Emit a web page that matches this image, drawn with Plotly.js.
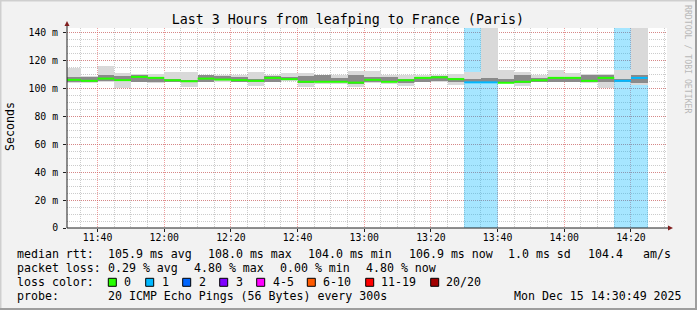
<!DOCTYPE html>
<html><head><meta charset="utf-8">
<script src="https://cdn.plot.ly/plotly-3.0.1.min.js"></script>
<style>html,body{margin:0;padding:0;background:#f2f2f2;}#chart{width:697px;height:310px;}</style>
</head><body><div id="chart"></div>
<script>
// ---- data (5-minute SmokePing intervals, values in ms) ----
const intervalStarts = ['11:30','11:35','11:40','11:45','11:50','11:55','12:00','12:05','12:10','12:15',
  '12:20','12:25','12:30','12:35','12:40','12:45','12:50','12:55','13:00','13:05',
  '13:10','13:15','13:20','13:25','13:30','13:35','13:40','13:45','13:50','13:55',
  '14:00','14:05','14:10','14:15','14:20'];
const medianRtt = [106.2,105.5,107.1,106.0,108.3,107.6,105.9,105.2,107.1,106.4,
  106.0,105.5,107.6,106.7,104.8,104.8,104.8,104.2,106.2,104.8,
  105.9,107.6,108.0,106.7,104.4,104.4,104.1,104.8,105.9,107.6,
  107.6,105.5,107.6,105.5,107.6];
const lossCount = [0,0,0,0,0,0,0,0,0,0, 0,0,0,0,0,0,0,0,0,0, 0,0,0,0,1,1,0,0,0,0, 0,0,0,1,1];
const smokeMin = [104.0,103.8,104.3,100.5,104.3,103.6,104.3,101.2,104.3,104.3,
  104.3,101.9,104.3,105.5,101.2,102.9,102.9,101.2,103.6,102.9,
  101.9,104.3,104.8,102.4,104.4,104.4,104.0,101.9,104.3,104.3,
  104.3,103.6,100.0,104.8,102.4];
const smokeMax = [115.0,108.6,116.2,111.0,110.7,110.7,111.9,111.9,109.9,110.0,
  109.5,111.9,109.5,111.2,111.2,110.0,109.5,112.4,112.6,109.5,
  109.5,109.5,110.0,110.7,112.1,150.0,113.1,111.9,110.0,113.1,
  111.4,110.7,110.7,113.1,150.0];
const coreMin = [104.8,104.5,105.5,105.5,105.0,104.8,104.8,104.3,104.8,105.8,
  104.8,104.3,104.8,106.0,103.6,104.3,104.3,102.9,104.8,104.3,
  103.6,104.8,105.2,104.5,104.4,104.8,104.8,103.6,104.8,104.8,
  105.0,105.0,104.8,104.8,103.6];
const coreMax = [108.3,108.0,110.0,109.3,109.5,108.0,106.7,106.0,109.5,108.8,
  108.0,106.7,108.8,108.5,108.8,109.5,107.6,109.5,108.3,108.3,
  107.1,108.5,108.8,107.6,106.5,107.6,107.1,109.5,107.6,108.3,
  108.5,109.5,109.5,107.1,109.5];
const yTickVals = [0,20,40,60,80,100,120,140];
const yTickText = ['0','20 m','40 m','60 m','80 m','100 m','120 m','140 m'];
const lossLabels = ['0','1','2','3','4-5','6-10','11-19','20/20'];
const lossColors = ['#26ff00','#00b8ff','#0066ff','#7f00ff','#ff00ff','#ff5a00','#ff0000','#a10000'];
const lossBgColors = ['rgba(38,255,0,0.35)','rgba(0,184,255,0.35)','rgba(0,102,255,0.35)','rgba(127,0,255,0.35)',
  'rgba(255,0,255,0.35)','rgba(255,90,0,0.35)','rgba(255,0,0,0.35)','rgba(161,0,0,0.35)'];
const statRows = [
  [['median rtt:',16],['105.9 ms avg',107.3],['108.0 ms max',207.3],['104.0 ms min',306.7],['106.9 ms now',408.3],['1.0 ms sd',506.7],['104.4',586.7],['am/s',641.7]],
  [['packet loss:',16],['0.29 % avg',107.3],['4.80 % max',193.3],['0.00 % min',278.7],['4.80 % now',365]],
  [['loss color:',16]],
  [['probe:',16],['20 ICMP Echo Pings (56 Bytes) every 300s',107.3],['Mon Dec 15 14:30:49 2025',513.3]]
];
const swatchX = [108.3,145.7,182.7,219.7,256.7,307.3,365.7,430.7];
const swatchLabelX = [123.3,161,198,235,272,322.3,380,445.3];

// ---- helpers ----
const STEP = 300000;
function toMs(t, s){ const p=t.split(':'); return Date.UTC(2025,11,15,+p[0],+p[1],s||0); }
function lossIdx(n){ if(n<=3) return n; if(n<=5) return 4; if(n<=10) return 5; if(n<=19) return 6; return 7; }
const X = px => (px-67)/600;
const Y = py => (228-py)/200;
const xs = intervalStarts.map(t=>toMs(t));
const Y_TOP = 143.36;

const traces = [];
// loss background
const bgIdx = lossCount.map((n,i)=>n>0?i:-1).filter(i=>i>=0);
traces.push({type:'bar', x:bgIdx.map(i=>xs[i]), base:bgIdx.map(()=>0), y:bgIdx.map(()=>Y_TOP+20),
  width:STEP, offset:0, marker:{color:bgIdx.map(i=>lossBgColors[lossIdx(lossCount[i])]), line:{width:0}},
  hoverinfo:'skip', showlegend:false});
// smoke outer
traces.push({type:'bar', x:xs, base:smokeMin, y:smokeMax.map((v,i)=>v-smokeMin[i]), width:STEP, offset:0,
  marker:{color:'#d9d9d9', line:{width:0}}, hoverinfo:'skip', showlegend:false});
// smoke core
traces.push({type:'bar', x:xs, base:coreMin, y:coreMax.map((v,i)=>v-coreMin[i]), width:STEP, offset:0,
  marker:{color:'#8a8a8a', line:{width:0}}, hoverinfo:'skip', showlegend:false});
// median lines per loss colour
lossColors.forEach((c,k)=>{
  const lx=[], ly=[];
  medianRtt.forEach((m,i)=>{ if(lossIdx(lossCount[i])===k){ lx.push(xs[i], xs[i]+STEP, null); ly.push(m,m,null);} });
  if(lx.length) traces.push({type:'scatter', mode:'lines', x:lx, y:ly, line:{color:c,width:2},
    hoverinfo:'skip', showlegend:false, connectgaps:false});
});

const mono = 'DejaVu Sans Mono, monospace';
const annotations = [];
statRows.forEach((row,r)=>{
  const py = 254.3 + r*14;
  row.forEach(([t,px])=>annotations.push({text:t.replace(/ /g,'\u00a0'), xref:'paper', yref:'paper', x:X(px-1), y:Y(py),
    xanchor:'left', yanchor:'middle', showarrow:false, font:{family:mono,size:11.6,color:'#000'}}));
});
lossLabels.forEach((t,k)=>annotations.push({text:t, xref:'paper', yref:'paper', x:X(swatchLabelX[k]-1), y:Y(282.3),
  xanchor:'left', yanchor:'middle', showarrow:false, font:{family:mono,size:11.6,color:'#000'}}));
annotations.push({text:'RRDTOOL / TOBI OETIKER', textangle:90, xref:'paper', yref:'paper', x:X(688), y:Y(59),
  xanchor:'center', yanchor:'middle', showarrow:false, font:{family:mono,size:8.2,color:'#b8b8b8'}});
annotations.push({text:'Seconds', textangle:-90, xref:'paper', yref:'paper', x:X(10), y:Y(127),
  xanchor:'center', yanchor:'middle', showarrow:false, font:{family:mono,size:11.6,color:'#000'}});

const shapes = [
  {type:'line', xref:'paper', yref:'paper', x0:X(0), x1:X(697), y0:Y(0.5), y1:Y(0.5), line:{color:'#cfcfcf',width:2}},
  {type:'line', xref:'paper', yref:'paper', x0:X(0.5), x1:X(0.5), y0:Y(0), y1:Y(310), line:{color:'#cfcfcf',width:2}},
  {type:'line', xref:'paper', yref:'paper', x0:X(0), x1:X(697), y0:Y(309), y1:Y(309), line:{color:'#9e9e9e',width:2}},
  {type:'line', xref:'paper', yref:'paper', x0:X(696), x1:X(696), y0:Y(0), y1:Y(310), line:{color:'#9e9e9e',width:2}},
  {type:'line', xref:'paper', yref:'paper', x0:X(67), x1:X(67), y0:Y(228), y1:Y(24), line:{color:'#1f1f1f',width:1}, layer:'above'},
  {type:'line', xref:'paper', yref:'paper', x0:X(67), x1:X(669), y0:Y(228), y1:Y(228), line:{color:'#1f1f1f',width:1}, layer:'above'},
  {type:'path', xref:'paper', yref:'paper', path:`M ${X(64.5)} ${Y(26)} L ${X(69.5)} ${Y(26)} L ${X(67)} ${Y(21)} Z`, fillcolor:'#801f1f', line:{width:0}, layer:'above'},
  {type:'path', xref:'paper', yref:'paper', path:`M ${X(668)} ${Y(225.5)} L ${X(668)} ${Y(230.5)} L ${X(673)} ${Y(228)} Z`, fillcolor:'#801f1f', line:{width:0}, layer:'above'}
];
swatchX.forEach((bx,k)=>shapes.push({type:'rect', xref:'paper', yref:'paper', x0:X(bx), x1:X(bx+8), y0:Y(278.3), y1:Y(286.3),
  fillcolor:lossColors[k], line:{color:'#000',width:1}}));

const gridMinor = 'rgba(143,143,143,0.45)', gridMajor = 'rgba(222,79,79,0.55)';
const layout = {
  width:697, height:310, margin:{l:67,r:30,t:28,b:82,pad:0},
  paper_bgcolor:'#f2f2f2', plot_bgcolor:'#ffffff', barmode:'overlay', bargap:0, showlegend:false,
  title:{text:'Last 3 Hours from leafping to France (Paris)', font:{family:mono,size:13.3,color:'#000'},
    x:0.499, xref:'container', xanchor:'center', y:1-19.3/310, yref:'container', yanchor:'middle'},
  xaxis:{type:'date', range:[toMs('11:30',49), toMs('14:30',49)], tickformat:'%H:%M', dtick:1200000, tick0:toMs('11:40'),
    showgrid:true, gridcolor:gridMajor, griddash:'1px,1px', gridwidth:1, zeroline:false, showline:false,
    ticks:'outside', ticklen:3, tickcolor:'#1f1f1f', ticklabelstandoff:-3, tickfont:{family:mono,size:9.8,color:'#000'},
    minor:{dtick:STEP, tick0:toMs('11:40'), showgrid:true, gridcolor:gridMinor, griddash:'1px,1px', gridwidth:1, ticks:''},
    fixedrange:true},
  yaxis:{range:[0,Y_TOP], tickvals:yTickVals, ticktext:yTickText,
    showgrid:true, gridcolor:gridMajor, griddash:'1px,1px', gridwidth:1, zeroline:false, showline:false,
    ticks:'outside', ticklen:3, tickcolor:'#1f1f1f', ticklabelstandoff:3, tickfont:{family:mono,size:9.8,color:'#000'},
    minor:{dtick:5, tick0:0, showgrid:true, gridcolor:gridMinor, griddash:'1px,1px', gridwidth:1, ticks:''},
    fixedrange:true},
  annotations, shapes
};
Plotly.newPlot('chart', traces, layout, {displayModeBar:false, staticPlot:true});
</script></body></html>
